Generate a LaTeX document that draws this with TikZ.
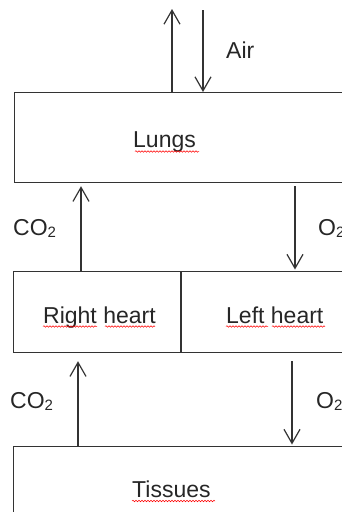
\documentclass[tikz,border=0pt]{standalone}
\usepackage{fontspec}
\setmainfont{Liberation Sans}
\usetikzlibrary{arrows.meta,decorations.pathmorphing}
\definecolor{ink}{HTML}{333333}
\newcommand{\sub}[1]{{\fontsize{15}{15}\selectfont\raisebox{-2pt}{#1}}}
\begin{document}
\begin{tikzpicture}[x=1pt,y=-1pt,
  ink/.style={draw=ink,line width=1.2pt},
  organ/.style={ink,rectangle,inner sep=0pt,anchor=north west},
  lbl/.style={inner sep=0pt,anchor=base west,text=black!85,font=\fontsize{23}{27}\selectfont},
  arr/.style={ink,-{Straight Barb[length=14pt,width=16pt,line width=1.2pt]}},
  squig/.style={draw=red,line width=0.5pt,decorate,decoration={snake,amplitude=0.8pt,segment length=3pt}}]
\useasboundingbox (0,0) rectangle (342,512);
\clip (0,0) rectangle (342,512);

% organ boxes (they run past the right and bottom edges)
\node[organ,minimum width=346pt,minimum height=90pt] (lungs) at (14,92) {};
\node[organ,minimum width=348pt,minimum height=81pt] (heart) at (12.5,271) {};
\node[organ,minimum width=348pt,minimum height=90pt] (tissues) at (12.5,446) {};
\coordinate (split) at (181,300);
\draw[ink] (split |- heart.north) -- (split |- heart.south);

% labels
\node[lbl] (tLungs) at (133,147) {Lungs};
\node[lbl] (tRight) at (43,323) {Right heart};
\node[lbl] (tLeft) at (226,323) {Left heart};
\node[lbl] (tTissues) at (132,497) {Tissues};
\node[lbl] (tAir) at (226,58) {Air};
\node[lbl] (tCOa) at (13,235) {CO\sub{2}};
\node[lbl] (tOa) at (318,235) {O\sub{2}};
\node[lbl] (tCOb) at (10,408) {CO\sub{2}};
\node[lbl] (tOb) at (316,408) {O\sub{2}};

% spelling marks under the words
\draw[squig] (135,151.5) -- (199,151.5);
\draw[squig] (43,326.5) -- (97,326.5);
\draw[squig] (105,326.5) -- (155,326.5);
\draw[squig] (226,326.5) -- (268,326.5);
\draw[squig] (272,326.5) -- (325,326.5);
\draw[squig] (132,501) -- (215,501);

% air in and out of the lungs
\coordinate (airOut) at (172,9);
\coordinate (airIn) at (203,10);
\draw[arr] (airOut |- lungs.north) -- (airOut);
\draw[arr] (airIn) -- (airIn |- lungs.north);

% lungs <-> heart
\coordinate (co2a) at (81,0);
\coordinate (o2a) at (295,0);
\draw[arr,shorten >=3pt] (co2a |- heart.north) -- (co2a |- lungs.south);
\draw[arr,shorten <=3pt,shorten >=1.5pt] (o2a |- lungs.south) -- (o2a |- heart.north);

% heart <-> tissues
\coordinate (co2b) at (78,0);
\coordinate (o2b) at (292,0);
\draw[arr,shorten >=8pt] (co2b |- tissues.north) -- (co2b |- heart.south);
\draw[arr,shorten <=8pt,shorten >=1.5pt] (o2b |- heart.south) -- (o2b |- tissues.north);
\end{tikzpicture}
\end{document}
